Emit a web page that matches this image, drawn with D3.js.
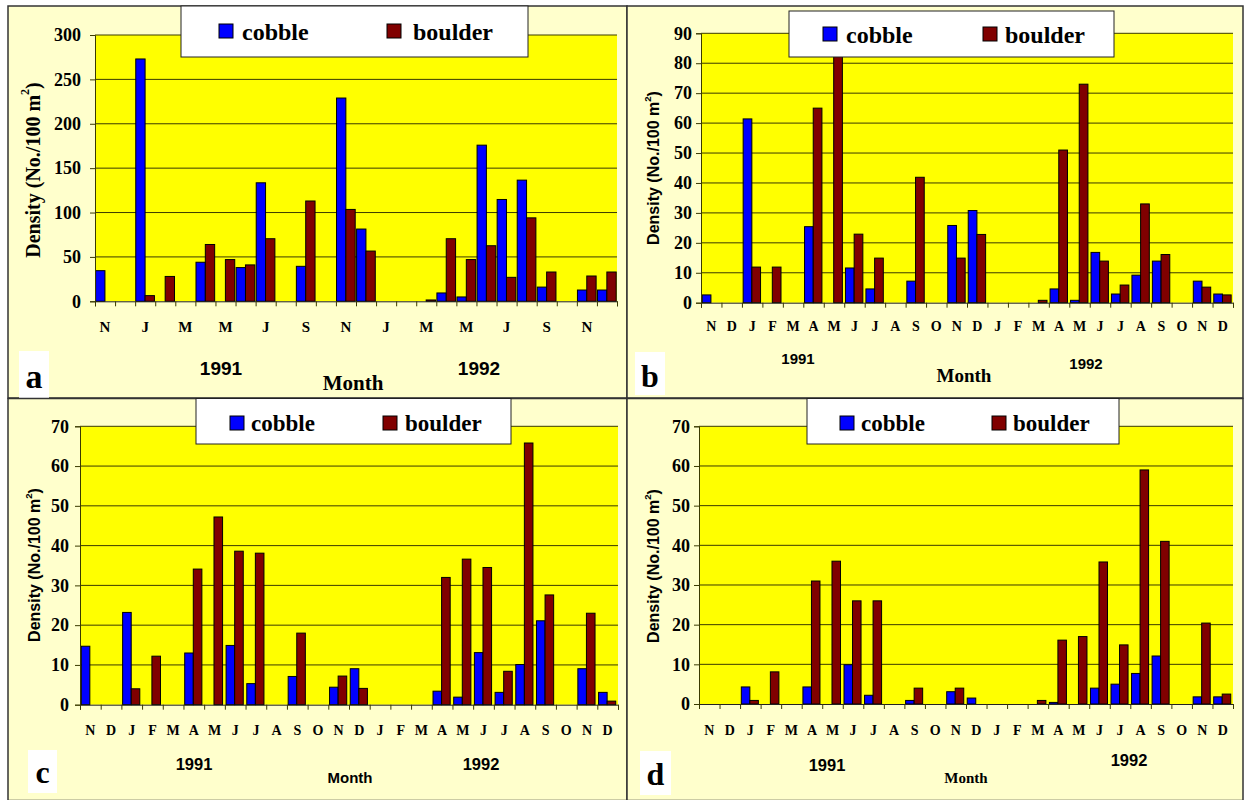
<!DOCTYPE html>
<html>
<head>
<meta charset="utf-8">
<script src="https://cdn.jsdelivr.net/npm/d3@7"></script>
<style>
  html, body { margin: 0; padding: 0; background: #ffffff; }
  svg { display: block; }
</style>
</head>
<body>
<svg id="chart" width="1246" height="800"></svg>
<script>
// ---------------- DATA ----------------
const months = ["N","D","J","F","M","A","M","J","J","A","S","O","N","D","J","F","M","A","M","J","J","A","S","O","N","D"];
const seriesNames = ["cobble", "boulder"];
const years = ["1991", "1992"];

const aCobble  = [34.5, 0, 273, 0, 0, 44, 0, 38, 133.5, 0, 39.4, 0, 229, 81.4, 0, 0, 0, 9.4, 4.9, 175.9, 114.7, 136.5, 16, 0, 12.7, 12.7];
const aBoulder = [0, 0, 6.4, 28, 0, 64, 47, 41, 70.5, 0, 113, 0, 103.5, 56.6, 0, 0, 1.5, 70.5, 47, 62.6, 27, 94, 33, 0, 28.5, 33];

const bCobble  = [2.6, 0, 61.4, 0, 0, 25.4, 0, 11.6, 4.6, 0, 7.2, 0, 25.8, 30.8, 0, 0, 0, 4.6, 0.8, 16.8, 2.9, 9.2, 13.9, 0, 7.2, 2.9];
const bBoulder = [0, 0, 11.9, 11.9, 0, 65, 86, 22.9, 14.9, 0, 41.9, 0, 14.9, 22.8, 0, 0, 0.8, 51, 73, 13.9, 5.9, 33, 16.1, 0, 5.2, 2.6];

const cCobble  = [14.7, 0, 23.2, 0, 0, 13, 0, 14.9, 5.3, 0, 7.1, 0, 4.4, 9.05, 0, 0, 0, 3.4, 1.9, 13.1, 3.1, 10.1, 21.1, 0, 9.05, 3.1];
const cBoulder = [0, 0, 4.0, 12.2, 0, 34.1, 47.2, 38.6, 38.1, 0, 18, 0, 7.2, 4.1, 0, 0, 0, 32, 36.6, 34.5, 8.4, 65.8, 27.6, 0, 23, 0.9];

const dCobble  = [0, 0, 4.3, 0, 0, 4.3, 0, 9.9, 2.2, 0, 0.9, 0, 3.1, 1.5, 0, 0, 0, 0.4, 0, 4.0, 5.0, 7.7, 12.1, 0, 1.8, 1.8];
const dBoulder = [0, 0, 0.9, 8.1, 0, 31, 36, 26, 26, 0, 4.0, 0, 4.0, 0, 0, 0, 0.9, 16.1, 17, 35.8, 14.9, 59, 41, 0, 20.4, 2.5];

const aTicks = [0, 50, 100, 150, 200, 250, 300];
const bTicks = [0, 10, 20, 30, 40, 50, 60, 70, 80, 90];
const cTicks = [0, 10, 20, 30, 40, 50, 60, 70];
const dTicks = [0, 10, 20, 30, 40, 50, 60, 70];

// ---------------- LAYOUT / STYLE ----------------
const SERIF = "'Liberation Serif', 'Times New Roman', serif";
const SANS = "'Liberation Sans', Arial, sans-serif";
const colors = ["#0000FF", "#800000"];

const panels = [
  { letter: "a", cobble: aCobble, boulder: aBoulder, ticks: aTicks, everyOther: true,
    frame: [8, 6, 619, 392], plot: [95, 617, 35, 301.3], grp: [0.03, 0.93],
    tickFont: 18, tickPad: 9, monthFont: 15, monthY: 332,
    ylab: {x: 33, y: 170, font: SERIF, size: 20},
    legend: {box: [181, 6, 347, 51], sw: [219, 24], tx: [242, 413], sw2: 387, base: 40, size: 24},
    yearFont: 19, yearPos: [[221, 375], [479, 375]],
    month: {x: 353, y: 390, font: SERIF, size: 21},
    lbox: [19, 351, 30, 47], lsize: 34, lbase: 388 },
  { letter: "b", cobble: bCobble, boulder: bBoulder, ticks: bTicks, everyOther: false,
    frame: [627, 6, 616, 392], plot: [701, 1233, 33.3, 302.7], grp: [0.06, 0.85],
    tickFont: 18, tickPad: 4, monthFont: 14, monthY: 331,
    ylab: {x: 653, y: 168, font: SANS, size: 16},
    legend: {box: [789, 11, 325, 46], sw: [823, 27], tx: [846, 1005], sw2: 983, base: 43, size: 24},
    yearFont: 15, yearPos: [[798, 364], [1086, 369]],
    month: {x: 964, y: 382, font: SERIF, size: 19},
    lbox: [635, 352, 30, 43], lsize: 32, lbase: 387 },
  { letter: "c", cobble: cCobble, boulder: cBoulder, ticks: cTicks, everyOther: false,
    frame: [8, 398.5, 619, 402], plot: [80, 618, 426.3, 704.7], grp: [0.06, 0.83],
    tickFont: 18, tickPad: 6, monthFont: 14, monthY: 735,
    ylab: {x: 34, y: 565, font: SANS, size: 16},
    legend: {box: [196, 398.5, 315, 45.5], sw: [230, 416], tx: [251, 405], sw2: 383, base: 431, size: 23},
    yearFont: 16.5, yearPos: [[194, 770], [481, 770]],
    month: {x: 350, y: 783, font: SANS, size: 15},
    lbox: [28, 750, 29, 43], lsize: 32, lbase: 783 },
  { letter: "d", cobble: dCobble, boulder: dBoulder, ticks: dTicks, everyOther: false,
    frame: [627, 398.5, 616, 402], plot: [699, 1233, 426.3, 704], grp: [0.06, 0.83],
    tickFont: 18, tickPad: 4, monthFont: 14, monthY: 735,
    ylab: {x: 653, y: 566, font: SANS, size: 16},
    legend: {box: [807, 398.5, 312, 45.5], sw: [840, 416], tx: [861, 1013], sw2: 992, base: 431, size: 23},
    yearFont: 16.5, yearPos: [[827, 771], [1129, 766]],
    month: {x: 966, y: 783, font: SERIF, size: 15},
    lbox: [640, 751, 31, 44], lsize: 32, lbase: 785 }
];

const svg = d3.select("#chart");

function drawPanel(p) {
  const g = svg.append("g");
  const [fx, fy, fw, fh] = p.frame;
  g.append("rect").attr("x", fx).attr("y", fy).attr("width", fw).attr("height", fh)
    .attr("fill", "#FFFFCC").attr("stroke", "#333").attr("stroke-width", 1.5);

  const [x0, x1, yTop, yZero] = p.plot;
  const yMax = p.ticks[p.ticks.length - 1];
  const x = d3.scaleBand().domain(d3.range(months.length)).range([x0, x1]).padding(0);
  const xl = d3.scaleLinear().domain([0, months.length]).range([x0, x1]);
  const y = d3.scaleLinear().domain([0, yMax]).range([yZero, yTop]);

  // plot area
  g.append("rect").attr("x", x0).attr("y", yTop).attr("width", x1 - x0).attr("height", yZero - yTop)
    .attr("fill", "#FFFF00");

  // gridlines
  g.append("g").selectAll("line").data(p.ticks.filter(t => t > 0)).join("line")
    .attr("x1", x0).attr("x2", x1).attr("y1", d => y(d)).attr("y2", d => y(d))
    .attr("stroke", "#3a3a00").attr("stroke-width", 1);

  // bars
  const bw = x.bandwidth();
  const sub = bw * p.grp[1] / 2;
  [p.cobble, p.boulder].forEach((vals, k) => {
    g.append("g").selectAll("rect").data(vals.map((v, i) => ({v, i})).filter(d => d.v > 0)).join("rect")
      .attr("x", d => x(d.i) + bw * p.grp[0] + k * sub)
      .attr("y", d => y(d.v))
      .attr("width", sub)
      .attr("height", d => y(0) - y(d.v))
      .attr("fill", colors[k]).attr("stroke", "#000").attr("stroke-width", 1);
  });

  // y axis
  const yAx = g.append("g").attr("transform", `translate(${x0},0)`)
    .call(d3.axisLeft(y).tickValues(p.ticks).tickSize(5).tickPadding(p.tickPad).tickFormat(d3.format("d")));
  yAx.select(".domain").attr("stroke", "#3a3a00");
  yAx.selectAll(".tick line").attr("stroke", "#3a3a00");
  yAx.selectAll(".tick text").attr("font-family", SERIF).attr("font-weight", "bold")
    .attr("font-size", p.tickFont).attr("fill", "#000");

  // x axis boundary ticks
  const xAx = g.append("g").attr("transform", `translate(0,${yZero})`)
    .call(d3.axisBottom(xl).tickValues(d3.range(months.length + 1)).tickSize(5).tickFormat(""));
  xAx.select(".domain").attr("stroke", "#222");
  xAx.selectAll(".tick line").attr("stroke", "#3a3a00");

  // month labels
  const idx = d3.range(months.length).filter(i => !p.everyOther || i % 2 === 0);
  const xLab = g.append("g").attr("transform", `translate(0,${p.monthY})`)
    .call(d3.axisBottom(x).tickValues(idx).tickSize(0).tickPadding(0).tickFormat(i => months[i]));
  xLab.select(".domain").remove();
  xLab.selectAll(".tick text").attr("dy", 0).attr("y", 0)
    .attr("font-family", SERIF).attr("font-weight", "bold").attr("font-size", p.monthFont).attr("fill", "#000");

  // y label
  const yl = p.ylab;
  const t = g.append("text").attr("transform", `translate(${yl.x},${yl.y}) rotate(-90)`)
    .attr("text-anchor", "middle").attr("dominant-baseline", "central")
    .attr("font-family", yl.font).attr("font-weight", "bold").attr("font-size", yl.size).attr("fill", "#000");
  t.append("tspan").text("Density (No./100 m");
  t.append("tspan").text("2").attr("font-size", yl.size * 0.6).attr("dy", -yl.size * 0.4);
  t.append("tspan").text(")").attr("dy", yl.size * 0.4);

  // legend
  const L = p.legend;
  const [lx, ly, lw, lh] = L.box;
  g.append("rect").attr("x", lx).attr("y", ly).attr("width", lw).attr("height", lh)
    .attr("fill", "#fff").attr("stroke", "#222").attr("stroke-width", 1);
  const swSize = 14;
  [[L.sw[0], L.tx[0]], [L.sw2, L.tx[1]]].forEach(([sx, tx], k) => {
    g.append("rect").attr("x", sx).attr("y", L.sw[1]).attr("width", swSize).attr("height", swSize)
      .attr("fill", colors[k]).attr("stroke", "#000").attr("stroke-width", 1);
    g.append("text").attr("x", tx).attr("y", L.base).text(seriesNames[k])
      .attr("font-family", SERIF).attr("font-weight", "bold").attr("font-size", L.size).attr("fill", "#000");
  });

  // years
  p.yearPos.forEach(([yx, yy], k) => {
    g.append("text").attr("x", yx).attr("y", yy).attr("text-anchor", "middle").text(years[k])
      .attr("font-family", SANS).attr("font-weight", "bold").attr("font-size", p.yearFont).attr("fill", "#000");
  });

  // Month title
  g.append("text").attr("x", p.month.x).attr("y", p.month.y).attr("text-anchor", "middle").text("Month")
    .attr("font-family", p.month.font).attr("font-weight", "bold").attr("font-size", p.month.size).attr("fill", "#000");

  // panel letter
  const [bx, by, bw2, bh] = p.lbox;
  g.append("rect").attr("x", bx).attr("y", by).attr("width", bw2).attr("height", bh).attr("fill", "#fff");
  g.append("text").attr("x", bx + bw2 / 2).attr("y", p.lbase).attr("text-anchor", "middle").text(p.letter)
    .attr("font-family", SERIF).attr("font-weight", "bold").attr("font-size", p.lsize).attr("fill", "#000");
}

panels.forEach(drawPanel);
</script>
</body>
</html>
